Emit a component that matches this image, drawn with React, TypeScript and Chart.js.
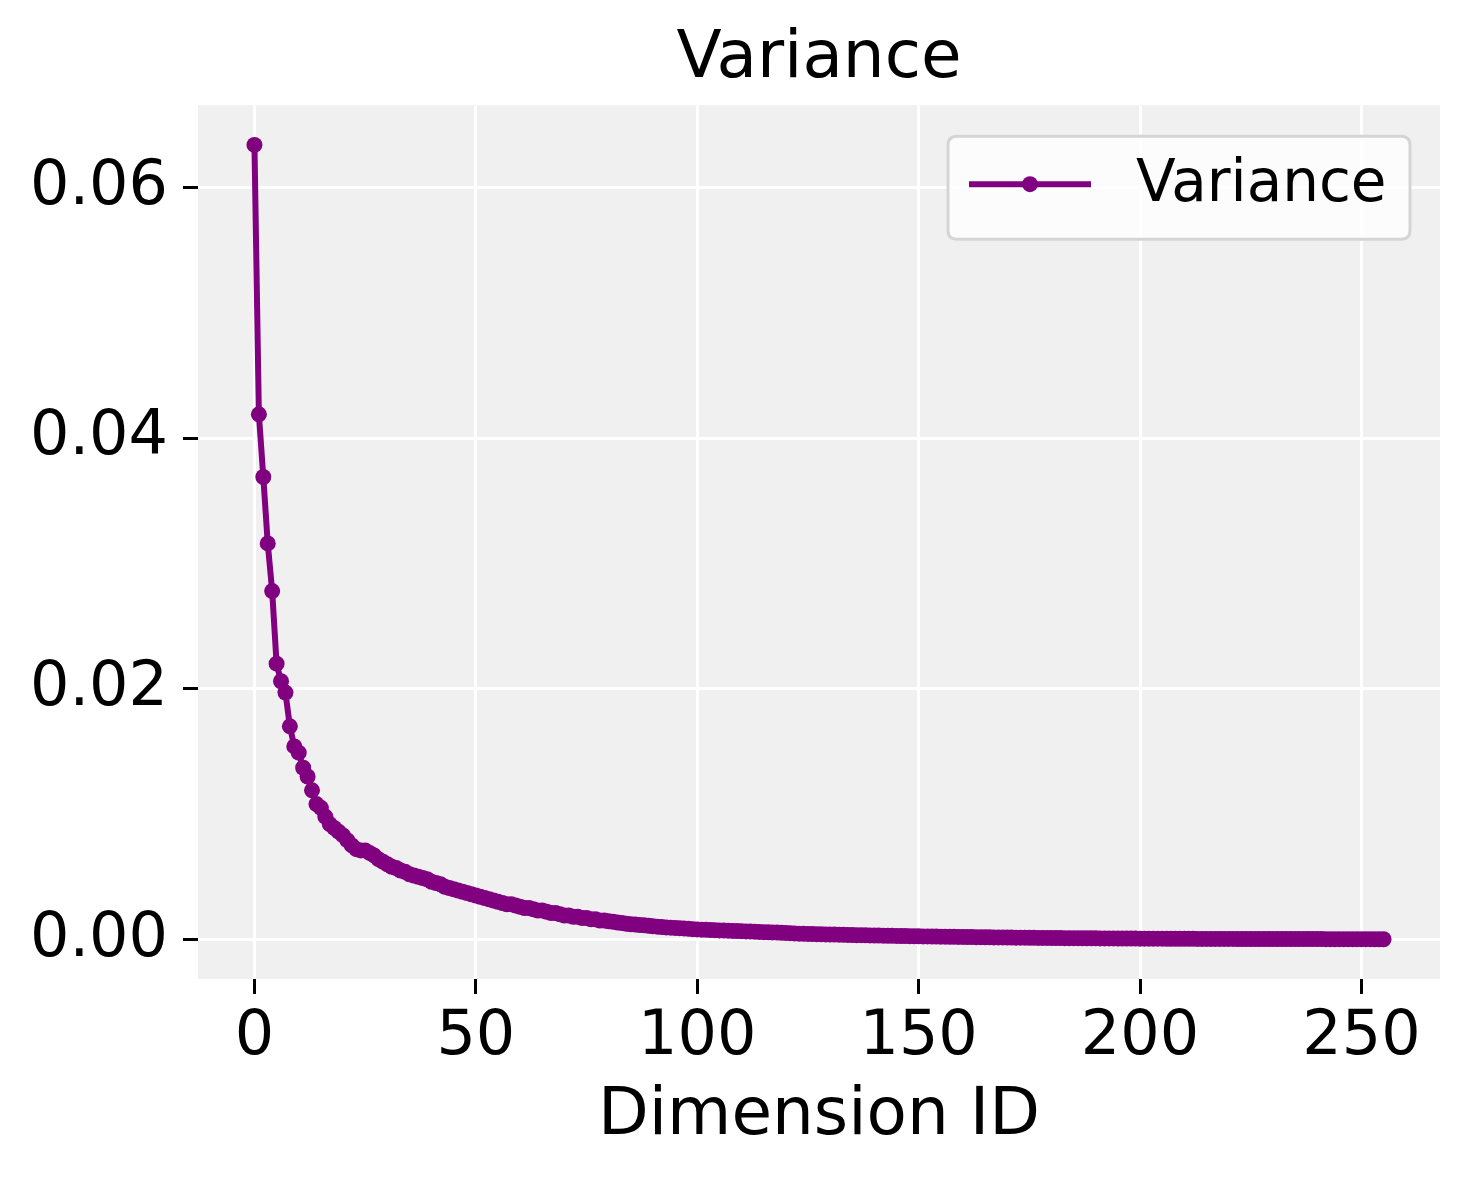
import React, { useEffect, useRef } from "react";
import { Chart, registerables } from "chart.js";

Chart.register(...registerables);

const chartTitle = "Variance";
const xAxisTitle = "Dimension ID";
const seriesLabel = "Variance";
const xTicks = [0, 50, 100, 150, 200, 250];
const yTicks = [0.0, 0.02, 0.04, 0.06];

const varianceValues = [
  0.0634, 0.0419, 0.0369, 0.0316, 0.0278, 0.0220, 0.0206, 0.0197, 0.0170, 0.0154,
  0.0149, 0.0137, 0.0130, 0.0119, 0.0108, 0.0105, 0.0098, 0.0092, 0.0089, 0.0086,
  0.0083, 0.0079, 0.0075, 0.0072, 0.0071, 0.0071, 0.0069, 0.0067, 0.0064, 0.0062,
  0.0060, 0.0058, 0.0057, 0.0055, 0.0054, 0.0052, 0.0051, 0.0050, 0.0049, 0.0048,
  0.0046, 0.0045, 0.0044, 0.0042, 0.0041, 0.0040, 0.0039, 0.0038, 0.0037, 0.0036,
  0.0035, 0.0034, 0.0033, 0.0032, 0.0031, 0.0030, 0.0029, 0.0028, 0.0028, 0.0027,
  0.0026, 0.0025, 0.0025, 0.0024, 0.0023, 0.0023, 0.0022, 0.0021, 0.0021, 0.0020,
  0.0019, 0.0019, 0.0018, 0.0018, 0.0017, 0.0017, 0.0016, 0.0016, 0.0015, 0.0015,
  0.00145, 0.0014, 0.00135, 0.0013, 0.00125, 0.0012, 0.00118, 0.00115, 0.00112, 0.00108,
  0.00105, 0.00102, 0.00099, 0.00096, 0.00094, 0.00092, 0.0009, 0.00088, 0.00085, 0.00082,
  0.0008, 0.00078, 0.00077, 0.00075, 0.00074, 0.00072, 0.00071, 0.0007, 0.00068, 0.00067,
  0.00066, 0.00064, 0.00063, 0.00062, 0.0006, 0.00058, 0.00057, 0.00056, 0.00055, 0.00053,
  0.00052, 0.0005, 0.00048, 0.00046, 0.00045, 0.00044, 0.00043, 0.00042, 0.00041, 0.0004,
  0.00039, 0.00039, 0.00038, 0.00037, 0.00036, 0.00035, 0.00034, 0.00034, 0.00033, 0.00032,
  0.00031, 0.00031, 0.0003, 0.00029, 0.00029, 0.00028, 0.00027, 0.00027, 0.00026, 0.00025,
  0.00025, 0.00024, 0.00024, 0.00023, 0.00023, 0.00022, 0.00022, 0.00021, 0.00021, 0.0002,
  0.0002, 0.00019, 0.00019, 0.00018, 0.00018, 0.00017, 0.00017, 0.00016, 0.00016, 0.00016,
  0.00015, 0.00015, 0.00014, 0.00014, 0.00014, 0.00013, 0.00013, 0.00012, 0.00012, 0.00012,
  0.00011, 0.00011, 0.00011, 0.0001, 0.0001, 0.0001, 0.0001, 0.00009, 0.00009, 0.00009,
  0.00009, 0.00008, 0.00008, 0.00008, 0.00008, 0.00007, 0.00007, 0.00007, 0.00007, 0.00007,
  0.00006, 0.00006, 0.00006, 0.00006, 0.00006, 0.00006, 0.00005, 0.00005, 0.00005, 0.00005,
  0.00005, 0.00005, 0.00005, 0.00004, 0.00004, 0.00004, 0.00004, 0.00004, 0.00004, 0.00004,
  0.00004, 0.00004, 0.00003, 0.00003, 0.00003, 0.00003, 0.00003, 0.00003, 0.00003, 0.00003,
  0.00003, 0.00003, 0.00003, 0.00003, 0.00003, 0.00003, 0.00003, 0.00003, 0.00003, 0.00003,
  0.00003, 0.00003, 0.00002, 0.00002, 0.00002, 0.00002, 0.00002, 0.00002, 0.00002, 0.00002,
  0.00002, 0.00002, 0.00002, 0.00001, 0.00001, 0.00001,
];

const dimensionIds = varianceValues.map((_, i) => i);

const FONT = "'DejaVu Sans', sans-serif";
const PURPLE = "#800080";

export default function App() {
  const canvasRef = useRef<HTMLCanvasElement | null>(null);

  useEffect(() => {
    document.body.style.margin = "0";
    const canvas = canvasRef.current;
    if (!canvas) return;

    const n = varianceValues.length;
    const xPad = (n - 1) * 0.05;
    const yMaxV = Math.max(...varianceValues);
    const yMinV = Math.min(...varianceValues);
    const yPad = (yMaxV - yMinV) * 0.05;

    const bgPlugin = {
      id: "bgPlugin",
      beforeDraw(chart: any) {
        const { ctx, chartArea } = chart;
        ctx.save();
        ctx.fillStyle = "#ffffff";
        ctx.fillRect(0, 0, chart.width, chart.height);
        ctx.fillStyle = "#f0f0f0";
        ctx.fillRect(chartArea.left, chartArea.top, chartArea.right - chartArea.left, chartArea.bottom - chartArea.top);
        ctx.restore();
      },
    };

    const legendPlugin = {
      id: "mplLegend",
      afterDraw(chart: any) {
        const { ctx, chartArea } = chart;
        const right = chartArea.right - 30;
        const top = chartArea.top + 31;
        const w = 462;
        const h = 103;
        const left = right - w;
        const r = 9;
        ctx.save();
        ctx.beginPath();
        ctx.moveTo(left + r, top);
        ctx.lineTo(left + w - r, top);
        ctx.quadraticCurveTo(left + w, top, left + w, top + r);
        ctx.lineTo(left + w, top + h - r);
        ctx.quadraticCurveTo(left + w, top + h, left + w - r, top + h);
        ctx.lineTo(left + r, top + h);
        ctx.quadraticCurveTo(left, top + h, left, top + h - r);
        ctx.lineTo(left, top + r);
        ctx.quadraticCurveTo(left, top, left + r, top);
        ctx.closePath();
        ctx.fillStyle = "rgba(255,255,255,0.8)";
        ctx.fill();
        ctx.lineWidth = 3;
        ctx.strokeStyle = "#d5d5d5";
        ctx.stroke();
        const cy = top + 48;
        ctx.beginPath();
        ctx.moveTo(left + 21, cy);
        ctx.lineTo(left + 143, cy);
        ctx.lineWidth = 6;
        ctx.strokeStyle = PURPLE;
        ctx.stroke();
        ctx.beginPath();
        ctx.arc(left + 82, cy, 8, 0, Math.PI * 2);
        ctx.fillStyle = PURPLE;
        ctx.fill();
        ctx.fillStyle = "#000000";
        ctx.font = `58px ${FONT}`;
        ctx.textBaseline = "middle";
        ctx.textAlign = "left";
        ctx.fillText(seriesLabel, left + 188, cy + 2);
        ctx.restore();
      },
    };

    const chart = new Chart(canvas, {
      type: "line",
      data: {
        datasets: [
          {
            label: seriesLabel,
            data: dimensionIds.map((x, i) => ({ x, y: varianceValues[i] })),
            borderColor: PURPLE,
            backgroundColor: PURPLE,
            borderWidth: 6,
            pointRadius: 8,
            pointBorderWidth: 0,
            pointBackgroundColor: PURPLE,
            pointHoverRadius: 8,
            tension: 0,
            fill: false,
          },
        ],
      },
      options: {
        animation: false,
        responsive: false,
        devicePixelRatio: 1,
        layout: { padding: { top: 0, right: 29, bottom: 0, left: 0 } },
        plugins: {
          legend: { display: false },
          tooltip: { enabled: false },
          title: {
            display: true,
            fullSize: false,
            text: chartTitle,
            color: "#000000",
            font: { family: FONT, size: 66, weight: "normal" },
            padding: { top: 20, bottom: 6 },
          },
        },
        scales: {
          x: {
            type: "linear",
            min: 0 - xPad,
            max: n - 1 + xPad,
            afterBuildTicks(scale: any) {
              scale.ticks = xTicks.map((v) => ({ value: v }));
            },
            afterFit(scale: any) {
              scale.height = 201;
            },
            ticks: {
              color: "#000000",
              font: { family: FONT, size: 62 },
              padding: 7,
              maxRotation: 0,
              autoSkip: false,
              callback: (v: any) => String(v),
            },
            grid: {
              color: "#ffffff",
              lineWidth: 3,
              drawTicks: true,
              tickColor: "#000000",
              tickLength: 15,
              tickWidth: 3,
            },
            border: { display: false },
            title: {
              display: true,
              text: xAxisTitle,
              color: "#000000",
              font: { family: FONT, size: 66 },
              padding: { top: 0, bottom: 24 },
            },
          },
          y: {
            type: "linear",
            min: yMinV - yPad,
            max: yMaxV + yPad,
            afterBuildTicks(scale: any) {
              scale.ticks = yTicks.map((v) => ({ value: v }));
            },
            afterFit(scale: any) {
              scale.width = 198;
            },
            ticks: {
              color: "#000000",
              font: { family: FONT, size: 62 },
              padding: 15,
              autoSkip: false,
              callback: (v: any) => Number(v).toFixed(2),
            },
            grid: {
              color: "#ffffff",
              lineWidth: 3,
              drawTicks: true,
              tickColor: "#000000",
              tickLength: 15,
              tickWidth: 3,
            },
            border: { display: false },
          },
        },
      },
      plugins: [bgPlugin, legendPlugin],
    } as any);

    return () => {
      chart.destroy();
    };
  }, []);

  return (
    <div style={{ position: "absolute", left: 0, top: 0, width: 1469, height: 1180 }}>
      <canvas ref={canvasRef} width={1469} height={1180} style={{ width: 1469, height: 1180, display: "block" }} />
    </div>
  );
}
